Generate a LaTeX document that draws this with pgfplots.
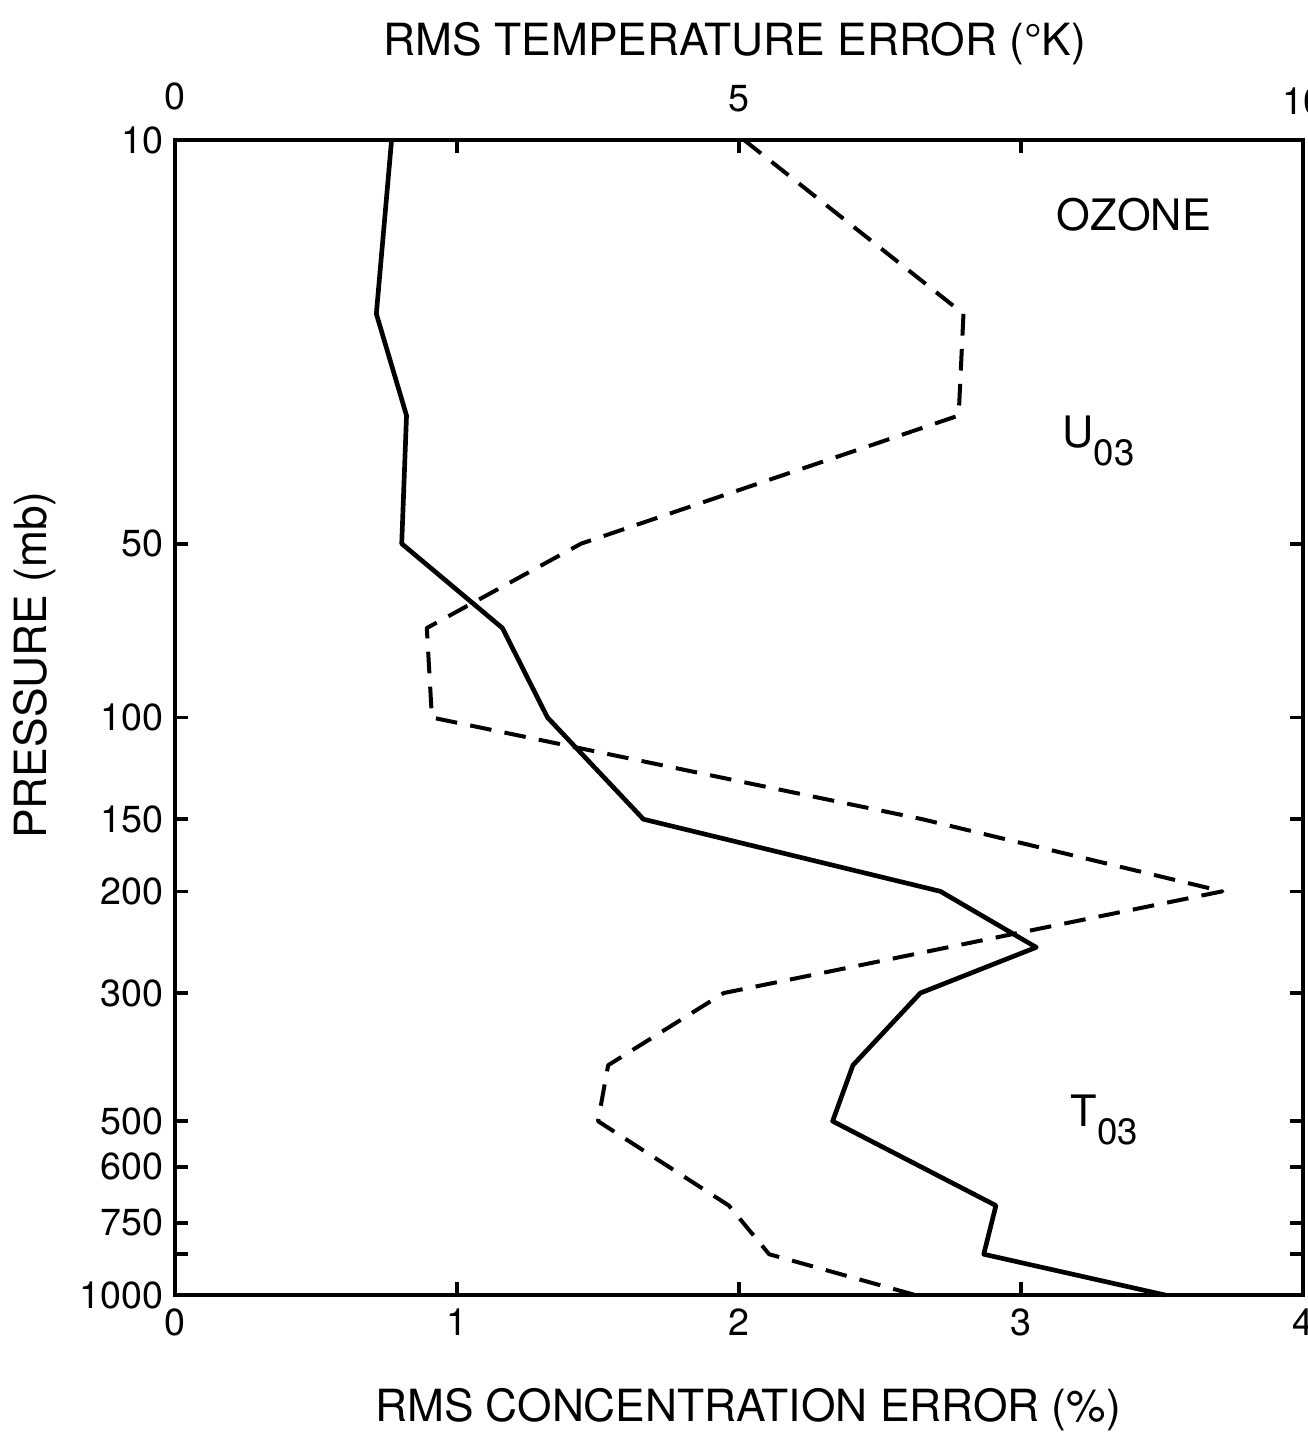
\documentclass[border=0pt]{standalone}
\usepackage{pgfplots}
\pgfplotsset{compat=1.18}
\usepackage{fontspec}
\setmainfont{TeX Gyre Heros}
\pgfplotstableread{
x p
0.768 10
0.714 20
0.821 30
0.804 50
1.161 70
1.321 100
1.661 150
2.714 200
3.054 250
2.643 300
2.404 400
2.332 500
2.911 700
2.868 850
3.511 1000
}\solidtab
\pgfplotstableread{
x p
2.018 10
2.796 20
2.779 30
1.440 50
0.893 70
0.911 100
2.650 150
3.714 200
1.946 300
1.536 400
1.500 500
1.964 700
2.107 850
2.625 1000
}\dashtab
\begin{document}
\begin{tikzpicture}
\begin{axis}[
  at={(0,0)}, anchor=south west,
  scale only axis, width=338.4pt, height=346.5pt,
  xmin=0, xmax=4, ymin=10, ymax=1000,
  ymode=log, y dir=reverse,
  axis line style={line width=1.2pt},
  xtick={0,1,2,3,4}, xticklabels={0,1,2,3,4},
  ytick={10,50,100,150,200,300,500,600,750,850,1000},
  yticklabels={10,50,100,150,200,300,500,600,750,,1000},
  yminorticks=false, xminorticks=false,
  major tick length=4pt,
  tick style={line width=1.1pt, black},
  tick align=inside,
  ticklabel style={font=\fontsize{11.3}{13}\selectfont},
  /pgf/number format/assume math mode=true,
  xticklabel style={yshift=-0.5pt},
  clip=false,
]
\addplot[black, line width=1.4pt, line join=round] table[x=x, y=p] {\solidtab};
\addplot[black, line width=1.2pt, dash pattern=on 6.5pt off 4pt, line join=round] table[x=x, y=p] {\dashtab};
\node[anchor=south, font=\fontsize{11.3}{13}\selectfont, yshift=5.5pt] at (axis cs:0,10) {0};
\node[anchor=south, font=\fontsize{11.3}{13}\selectfont, yshift=5pt] at (axis cs:2,10) {5};
\node[anchor=south, font=\fontsize{11.3}{13}\selectfont, yshift=4pt] at (axis cs:4,10) {10};
\end{axis}
\node[font=\fontsize{13.3}{15}\selectfont] at (168pt,375.3pt) {RMS TEMPERATURE ERROR (°K)};
\node[font=\fontsize{13.3}{15}\selectfont] at (171.9pt,-34.5pt) {RMS CONCENTRATION ERROR (\%)};
\node[font=\fontsize{13.3}{15}\selectfont, rotate=90] at (-42pt,189pt) {PRESSURE (mb)};
\node[font=\fontsize{13}{15}\selectfont] at (287.7pt,324pt) {OZONE};
\node[font=\fontsize{13}{15}\selectfont, anchor=base west, inner sep=0pt] at (266.1pt,254.1pt) {U\raisebox{-5.4pt}{\fontsize{11}{12}\selectfont 03}};
\node[font=\fontsize{13}{15}\selectfont, anchor=base west, inner sep=0pt] at (268.5pt,50.4pt) {T\raisebox{-5.4pt}{\fontsize{11}{12}\selectfont 03}};
\pgfresetboundingbox
\useasboundingbox (-52.5pt,-42pt) rectangle (339.6pt,388.5pt);
\end{tikzpicture}
\end{document}
